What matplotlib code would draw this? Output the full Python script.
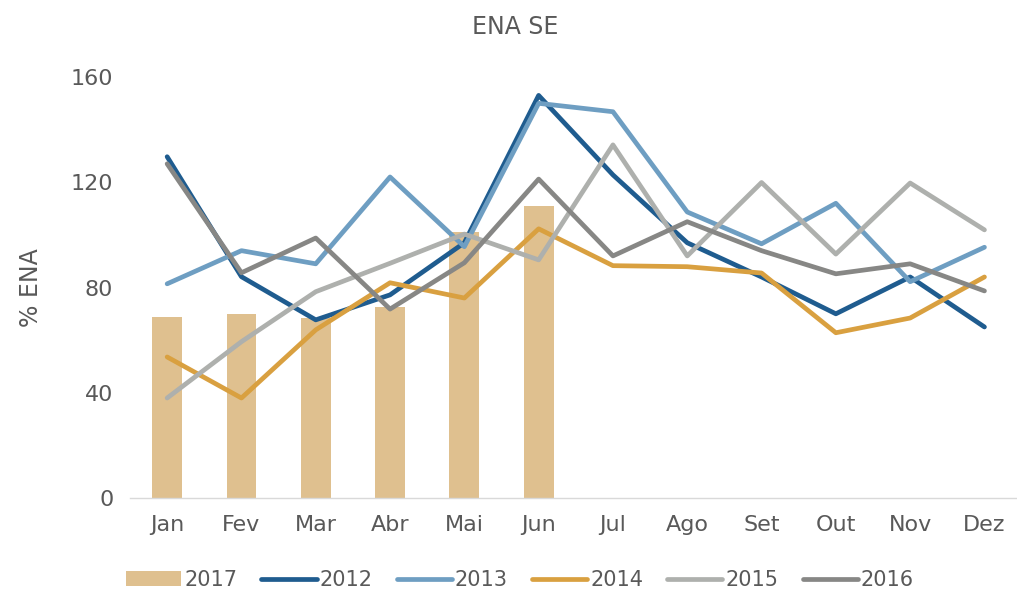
import matplotlib.pyplot as plt
import numpy as np

# month labels
months = ['Jan', 'Fev', 'Mar', 'Abr', 'Mai', 'Jun', 'Jul', 'Ago', 'Set', 'Out', 'Nov', 'Dez']

# 2017 bars (only first half of year)
ena2017 = [68.8, 70.0, 68.5, 72.7, 101.2, 110.8]

# previous years as lines
ena2012 = [129.7, 84.1, 67.7, 77.2, 97.0, 153.0, 122.8, 97.0, 84.0, 70.0, 84.0, 65.0]
ena2013 = [81.4, 94.0, 89.0, 122.0, 95.5, 150.0, 146.8, 108.7, 96.6, 112.0, 82.2, 95.3]
ena2014 = [53.6, 38.0, 63.9, 81.8, 76.0, 102.3, 88.3, 87.9, 85.5, 62.8, 68.4, 84.0]
ena2015 = [38.0, 59.4, 78.4, 89.2, 100.3, 90.5, 134.2, 92.0, 119.9, 92.7, 119.7, 101.9]
ena2016 = [127.0, 85.6, 98.8, 71.8, 89.4, 121.2, 92.0, 105.0, 94.0, 85.2, 89.0, 78.7]

txt = '#595959'
font = 'DejaVu Sans'

fig = plt.figure(figsize=(10.17, 5.96), dpi=100)
ax = fig.add_axes([130 / 1017, 1 - 498 / 596, 887 / 1017, 421 / 596])

x = np.arange(len(months))
ax.bar(x[:len(ena2017)], ena2017, width=0.4, color='#DFC08F', label='2017', zorder=1)
ax.plot(x, ena2012, color='#1F5C8F', lw=3.4, label='2012', solid_capstyle='round')
ax.plot(x, ena2013, color='#6E9EC2', lw=3.4, label='2013', solid_capstyle='round')
ax.plot(x, ena2014, color='#D9A040', lw=3.4, label='2014', solid_capstyle='round')
ax.plot(x, ena2015, color='#AEB0AD', lw=3.4, label='2015', solid_capstyle='round')
ax.plot(x, ena2016, color='#878785', lw=3.4, label='2016', solid_capstyle='round')

ax.set_xlim(-0.5, -0.5 + 887 / 74.3)
ax.set_ylim(0, 160)
ax.set_yticks([0, 40, 80, 120, 160])
ax.set_xticks(x)
ax.set_xticklabels(months)
ax.tick_params(axis='both', length=0, labelsize=16, labelcolor=txt, pad=12)
for lab in ax.get_xticklabels() + ax.get_yticklabels():
    lab.set_family(font)

for s in ['top', 'right', 'left']:
    ax.spines[s].set_visible(False)
ax.spines['bottom'].set_color('#D9D9D9')
ax.spines['bottom'].set_linewidth(1)

ax.set_ylabel('% ENA', fontsize=17, color=txt, family=font, labelpad=20)
fig.text(0.507, 0.955, 'ENA SE', ha='center', va='center', fontsize=17, color=txt, family=font)

handles, labels = ax.get_legend_handles_labels()
order = [5, 0, 1, 2, 3, 4]
leg = ax.legend([handles[i] for i in order], [labels[i] for i in order],
                loc='center', bbox_to_anchor=(520 / 1017, 1 - 580 / 596),
                bbox_transform=fig.transFigure, ncol=6, frameon=False,
                prop={'family': font, 'size': 15},
                handlelength=2.65, handletextpad=0.15, columnspacing=1.15)
for t in leg.get_texts():
    t.set_color(txt)

fig.savefig('out.png', dpi=100)
